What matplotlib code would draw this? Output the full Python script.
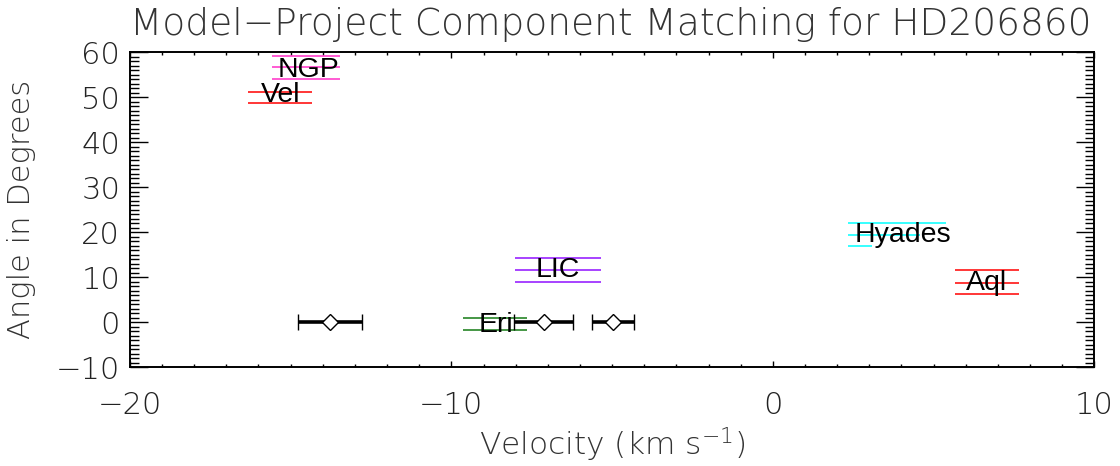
import matplotlib
matplotlib.use("Agg")
import matplotlib.pyplot as plt
from matplotlib import font_manager
from matplotlib.ticker import MultipleLocator

# Velocity components measured along the sight line (km/s) and their half-widths
comp_velocity = [-13.78, -7.13, -4.97]
comp_err = [0.99, 0.92, 0.66]
comp_angle = [0.0, 0.0, 0.0]

# Cloud model bands: one horizontal segment per level
seg_model = ["NGP", "NGP", "NGP", "Vel", "Vel", "LIC", "LIC", "LIC",
             "Eri", "Eri", "Hyades", "Hyades", "Hyades", "Aql", "Aql", "Aql"]
seg_angle = [59.2, 56.6, 53.9, 51.2, 48.7, 14.15, 11.56, 8.82,
             0.82, -1.78, 22.07, 19.4, 16.8, 11.5, 8.73, 6.15]
seg_vlo = [-15.59, -15.59, -15.59, -16.32, -16.32, -8.02, -8.02, -8.02,
           -9.63, -9.63, 2.33, 2.33, 2.33, 5.66, 5.66, 5.66]
seg_vhi = [-13.47, -13.47, -13.47, -14.35, -14.35, -5.33, -5.33, -5.33,
           -7.66, -7.66, 5.38, 4.57, 3.08, 7.65, 7.65, 7.65]

# Model names, colours and label anchors
model_names = ["NGP", "Vel", "LIC", "Eri", "Hyades", "Aql"]
model_colors = ["#ff2fc8", "#ff0000", "#9010ff", "#137a13", "#00ffff", "#ff0000"]
label_v = [-14.44, -15.30, -6.69, -8.62, 4.05, 6.66]
label_angle = [54.5, 49.0, 9.93, -2.15, 17.8, 7.18]

title_text = "Model\u2212Project Component Matching for HD206860"
xlabel_text = r"Velocity (km s$^{-1}$)"
ylabel_text = "Angle in Degrees"


def light_font():
    entries = font_manager.fontManager.ttflist
    for cand, maxw in [("DejaVu Sans", 250), ("Roboto", 300), ("Lato", 300),
                       ("Open Sans", 300), ("Noto Sans", 300), ("Inter", 300)]:
        ws = [f.weight for f in entries if f.name == cand and isinstance(f.weight, int)]
        light = [w for w in ws if w <= maxw]
        if light:
            return cand, max(light)
    return "DejaVu Sans", 400


thin, thin_w = light_font()
plt.rcParams["mathtext.fontset"] = "custom"
plt.rcParams["mathtext.rm"] = f"{thin}:weight={thin_w}"
plt.rcParams["mathtext.it"] = f"{thin}:weight={thin_w}"
plt.rcParams["mathtext.default"] = "rm"

fig = plt.figure(figsize=(11.2, 4.66), dpi=100)
ax = fig.add_axes([0.116, 0.2124, 0.861, 0.6760])

color_of = dict(zip(model_names, model_colors))
ax.hlines(seg_angle, seg_vlo, seg_vhi, colors=[color_of[m] for m in seg_model], lw=1.1)

for name, v, a in zip(model_names, label_v, label_angle):
    ax.text(v, a, name, ha="center", va="baseline", fontsize=20.5,
            family="Liberation Sans", color="black")

ax.errorbar(comp_velocity, comp_angle, xerr=comp_err, fmt="D", ms=8,
            mfc="white", mec="black", mew=1.0, ecolor="black", elinewidth=2.6,
            capsize=6, capthick=2.6, zorder=5)

ax.set_xlim(-20, 10)
ax.set_ylim(-10, 60)
ax.xaxis.set_major_locator(MultipleLocator(10))
ax.xaxis.set_minor_locator(MultipleLocator(1))
ax.yaxis.set_major_locator(MultipleLocator(10))
ax.yaxis.set_minor_locator(MultipleLocator(1))

ax.tick_params(axis="both", which="both", direction="in", top=True, right=True,
               colors="black", width=1.0)
ax.tick_params(axis="x", which="major", length=4.3, pad=17)
ax.tick_params(axis="x", which="minor", length=2.2)
ax.tick_params(axis="y", which="major", length=13, pad=7)
ax.tick_params(axis="y", which="minor", length=6.5)
for sp in ax.spines.values():
    sp.set_linewidth(1.4)

for lab in ax.get_xticklabels() + ax.get_yticklabels():
    lab.set_family(thin)
    lab.set_fontweight(thin_w)
    lab.set_fontsize(22)
    lab.set_color("#222222")

ax.set_xlabel(xlabel_text, family=thin, fontweight=thin_w, fontsize=22.5,
              color="#333333", labelpad=4)
ax.set_ylabel(ylabel_text, family=thin, fontweight=thin_w, fontsize=22,
              color="#333333", labelpad=14)
fig.text(0.545, 0.985, title_text, ha="center", va="top", family=thin,
         fontweight=thin_w, fontsize=27, color="#333333")

fig.savefig("out.png", dpi=100, facecolor="white")
